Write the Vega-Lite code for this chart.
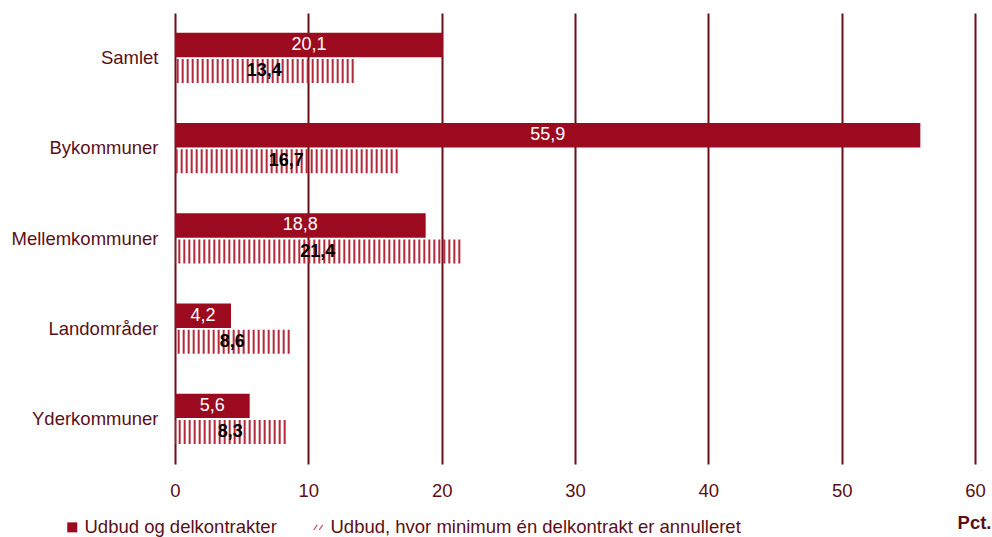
{
  "$schema": "https://vega.github.io/schema/vega-lite/v6.json",
  "width": 800,
  "height": 451,
  "autosize": {"type": "none"},
  "padding": {"left": 175, "top": 13, "right": 17, "bottom": 73},
  "config": {
    "view": {"stroke": null},
    "font": "Liberation Sans",
    "locale": {"number": {"decimal": ",", "thousands": ".", "grouping": [3], "currency": ["", " kr."]}}
  },
  "data": {
    "values": [
      {"kategori": "Samlet", "serie": "Udbud og delkontrakter", "pct": 20.1},
      {"kategori": "Samlet", "serie": "Udbud, hvor minimum én delkontrakt er annulleret", "pct": 13.4},
      {"kategori": "Bykommuner", "serie": "Udbud og delkontrakter", "pct": 55.9},
      {"kategori": "Bykommuner", "serie": "Udbud, hvor minimum én delkontrakt er annulleret", "pct": 16.7},
      {"kategori": "Mellemkommuner", "serie": "Udbud og delkontrakter", "pct": 18.8},
      {"kategori": "Mellemkommuner", "serie": "Udbud, hvor minimum én delkontrakt er annulleret", "pct": 21.4},
      {"kategori": "Landområder", "serie": "Udbud og delkontrakter", "pct": 4.2},
      {"kategori": "Landområder", "serie": "Udbud, hvor minimum én delkontrakt er annulleret", "pct": 8.6},
      {"kategori": "Yderkommuner", "serie": "Udbud og delkontrakter", "pct": 5.6},
      {"kategori": "Yderkommuner", "serie": "Udbud, hvor minimum én delkontrakt er annulleret", "pct": 8.3}
    ]
  },
  "encoding": {
    "y": {
      "field": "kategori",
      "type": "nominal",
      "sort": ["Samlet", "Bykommuner", "Mellemkommuner", "Landområder", "Yderkommuner"],
      "scale": {"paddingInner": 0.44, "paddingOuter": 0.22},
      "axis": {
        "title": null,
        "domain": false,
        "ticks": false,
        "labelPadding": 17,
        "labelFontSize": 18.5,
        "labelColor": "#5a0f17"
      }
    },
    "yOffset": {
      "field": "serie",
      "type": "nominal",
      "sort": ["Udbud og delkontrakter", "Udbud, hvor minimum én delkontrakt er annulleret"],
      "scale": {"paddingInner": 0.06}
    }
  },
  "layer": [
    {
      "mark": {"type": "bar"},
      "encoding": {
        "x": {
          "field": "pct",
          "type": "quantitative",
          "scale": {"domain": [0, 60]},
          "axis": {
            "values": [0, 10, 20, 30, 40, 50, 60],
            "grid": true,
            "gridColor": "#6b0e18",
            "gridWidth": 2,
            "domain": false,
            "ticks": false,
            "labelFlush": false,
            "labelPadding": 17,
            "labelFontSize": 18.5,
            "labelColor": "#5a0f17",
            "title": "Pct.",
            "titleFontSize": 18.5,
            "titleFontWeight": "bold",
            "titleColor": "#5a0f17",
            "titleX": 816,
            "titleY": 58,
            "titleAlign": "right",
            "titleBaseline": "middle"
          }
        },
        "color": {
          "field": "serie",
          "type": "nominal",
          "scale": {
            "domain": ["Udbud og delkontrakter", "Udbud, hvor minimum én delkontrakt er annulleret"],
            "range": ["#9c0a1f", "transparent"]
          },
          "legend": {
            "orient": "none",
            "legendX": -112,
            "legendY": 505,
            "direction": "horizontal",
            "title": null,
            "labelFontSize": 18.5,
            "labelColor": "#5a0f17",
            "labelLimit": 700,
            "symbolSize": 100,
            "symbolType": "square",
            "columnPadding": 32,
            "labelOffset": 3,
            "encode": {
              "symbols": {
                "update": {
                  "shape": {"signal": "datum.value === 'Udbud og delkontrakter' ? 'square' : 'M-0.9,0.5L-0.2,-0.5M0.2,0.5L0.9,-0.5'"},
                  "stroke": {"signal": "datum.value === 'Udbud og delkontrakter' ? 'transparent' : '#c8566a'"},
                  "strokeWidth": {"value": 1.2}
                }
              }
            }
          }
        }
      }
    },
    {
      "transform": [{"filter": "datum.serie !== 'Udbud og delkontrakter'"}],
      "mark": {"type": "rule", "strokeDash": [2, 3], "strokeWidth": 24, "strokeCap": "butt", "color": "#b3283a"},
      "encoding": {
        "x": {"field": "pct", "type": "quantitative", "scale": {"domain": [0, 60]}, "axis": null},
        "x2": {"datum": 0}
      }
    },
    {
      "transform": [{"filter": "datum.serie === 'Udbud og delkontrakter'"}],
      "mark": {"type": "text", "color": "#ffffff", "fontSize": 18},
      "encoding": {
        "x": {"field": "pct", "type": "quantitative", "scale": {"domain": [0, 120]}, "axis": null},
        "text": {"field": "pct", "type": "quantitative", "format": ".1f"}
      }
    },
    {
      "transform": [{"filter": "datum.serie !== 'Udbud og delkontrakter'"}],
      "mark": {"type": "text", "color": "#000000", "fontSize": 18, "fontWeight": "bold"},
      "encoding": {
        "x": {"field": "pct", "type": "quantitative", "scale": {"domain": [0, 120]}, "axis": null},
        "text": {"field": "pct", "type": "quantitative", "format": ".1f"}
      }
    }
  ],
  "resolve": {"scale": {"x": "independent"}}
}
